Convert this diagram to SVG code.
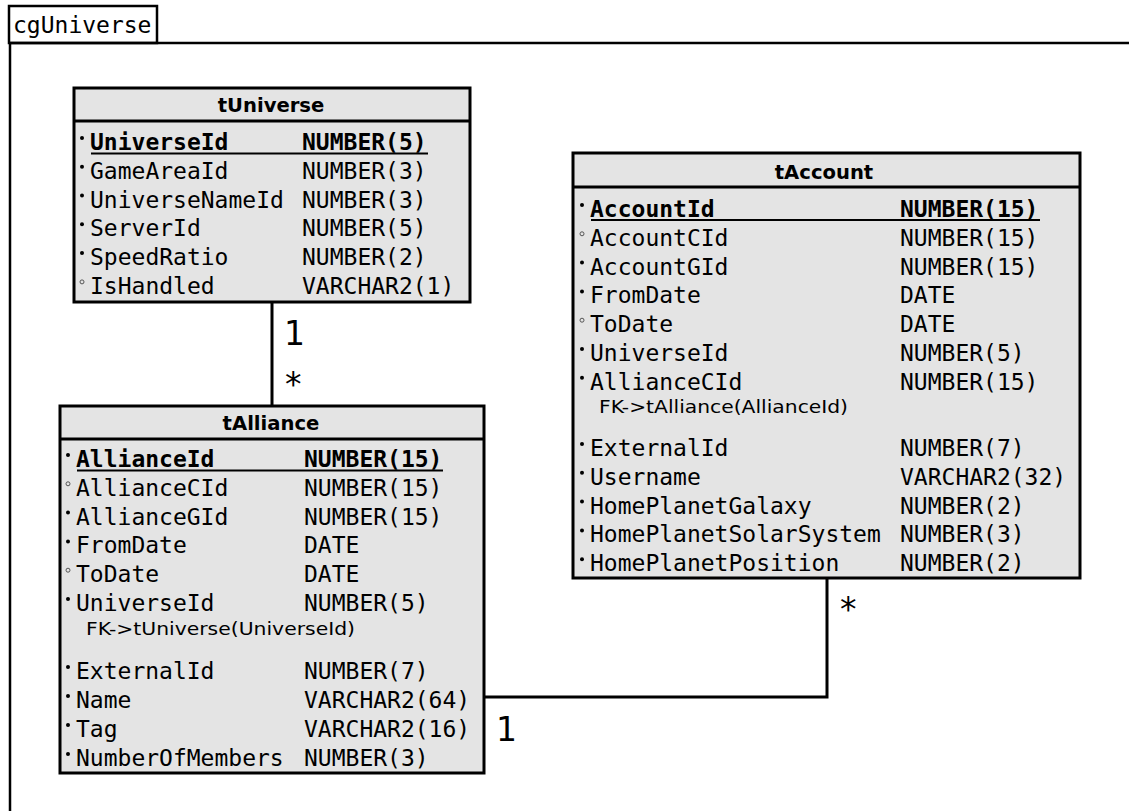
<svg xmlns="http://www.w3.org/2000/svg" width="1129" height="811" viewBox="0 0 1129 811">
<style>
.frame{fill:none;stroke:#000;stroke-width:2.5}
.box{fill:#e4e4e4;stroke:#000;stroke-width:3}
.sep{stroke:#000;stroke-width:3}
.ul{stroke:#000;stroke-width:2}
.title{font-family:"DejaVu Sans",sans-serif;font-weight:bold;font-size:19.6px;fill:#000;text-anchor:middle}
.m{font-family:"DejaVu Sans Mono",monospace;font-size:23px;fill:#000}
.b{font-weight:bold}
.fk{font-family:"DejaVu Sans",sans-serif;font-size:18px;fill:#000}
.card{font-family:"DejaVu Sans",sans-serif;font-size:33px;fill:#000}
.dot{fill:#000}
.odot{fill:none;stroke:#555;stroke-width:1}
.conn{fill:none;stroke:#000;stroke-width:3}
</style>
<rect width="1129" height="811" fill="#fff"/>
<g id="frame">
<rect class="frame" x="9" y="6" width="148" height="37" fill="#fff"/>
<path class="frame" d="M9 43 H1129 M10 43 V811"/>
<text class="m" x="13" y="33">cgUniverse</text>
</g>
<g id="connectors">
<path class="conn" d="M272 302 V406"/>
<path class="conn" d="M484 697 H827 V578"/>
<text class="card" x="284" y="345">1</text>
<text class="card" x="285" y="396">*</text>
<text class="card" x="496" y="741">1</text>
<text class="card" x="840" y="621">*</text>
</g>
<g id="tUniverse">
<rect class="box" x="74" y="88" width="396" height="214"/>
<line class="sep" x1="74" y1="121" x2="470" y2="121"/>
<text class="title" x="271" y="112">tUniverse</text>
<circle class="dot" cx="82" cy="138" r="2"/>
<text class="m b" x="90" y="150">UniverseId</text><text class="m b" x="302" y="150">NUMBER(5)</text>
<line class="ul" x1="91" y1="153.5" x2="428" y2="153.5"/>
<circle class="dot" cx="82" cy="166.7" r="2"/>
<text class="m" x="90" y="178.8">GameAreaId</text><text class="m" x="302" y="178.8">NUMBER(3)</text>
<circle class="dot" cx="82" cy="195.5" r="2"/>
<text class="m" x="90" y="207.6">UniverseNameId</text><text class="m" x="302" y="207.6">NUMBER(3)</text>
<circle class="dot" cx="82" cy="224.3" r="2"/>
<text class="m" x="90" y="236.4">ServerId</text><text class="m" x="302" y="236.4">NUMBER(5)</text>
<circle class="dot" cx="82" cy="253.1" r="2"/>
<text class="m" x="90" y="265.2">SpeedRatio</text><text class="m" x="302" y="265.2">NUMBER(2)</text>
<circle class="odot" cx="82" cy="281.9" r="2"/>
<text class="m" x="90" y="294">IsHandled</text><text class="m" x="302" y="294">VARCHAR2(1)</text>
</g>
<g id="tAlliance">
<rect class="box" x="60" y="406" width="424" height="367"/>
<line class="sep" x1="60" y1="439" x2="484" y2="439"/>
<text class="title" x="271" y="430">tAlliance</text>
<circle class="dot" cx="68" cy="455" r="2"/>
<text class="m b" x="76" y="467">AllianceId</text><text class="m b" x="304" y="467">NUMBER(15)</text>
<line class="ul" x1="77" y1="470.5" x2="443" y2="470.5"/>
<circle class="odot" cx="68" cy="483.8" r="2"/>
<text class="m" x="76" y="495.8">AllianceCId</text><text class="m" x="304" y="495.8">NUMBER(15)</text>
<circle class="dot" cx="68" cy="512.6" r="2"/>
<text class="m" x="76" y="524.6">AllianceGId</text><text class="m" x="304" y="524.6">NUMBER(15)</text>
<circle class="dot" cx="68" cy="541.4" r="2"/>
<text class="m" x="76" y="553.4">FromDate</text><text class="m" x="304" y="553.4">DATE</text>
<circle class="odot" cx="68" cy="570.2" r="2"/>
<text class="m" x="76" y="582.2">ToDate</text><text class="m" x="304" y="582.2">DATE</text>
<circle class="dot" cx="68" cy="599" r="2"/>
<text class="m" x="76" y="611">UniverseId</text><text class="m" x="304" y="611">NUMBER(5)</text>
<text class="fk" x="86" y="635" textLength="269" lengthAdjust="spacingAndGlyphs">FK-&gt;tUniverse(UniverseId)</text>
<circle class="dot" cx="68" cy="667" r="2"/>
<text class="m" x="76" y="679">ExternalId</text><text class="m" x="304" y="679">NUMBER(7)</text>
<circle class="dot" cx="68" cy="696" r="2"/>
<text class="m" x="76" y="708">Name</text><text class="m" x="304" y="708">VARCHAR2(64)</text>
<circle class="dot" cx="68" cy="725" r="2"/>
<text class="m" x="76" y="737">Tag</text><text class="m" x="304" y="737">VARCHAR2(16)</text>
<circle class="dot" cx="68" cy="754" r="2"/>
<text class="m" x="76" y="766">NumberOfMembers</text><text class="m" x="304" y="766">NUMBER(3)</text>
</g>
<g id="tAccount">
<rect class="box" x="573" y="153" width="507" height="425"/>
<line class="sep" x1="573" y1="187" x2="1080" y2="187"/>
<text class="title" x="824" y="179">tAccount</text>
<circle class="dot" cx="582" cy="205" r="2"/>
<text class="m b" x="590" y="217">AccountId</text><text class="m b" x="900" y="217">NUMBER(15)</text>
<line class="ul" x1="591" y1="220" x2="1040" y2="220"/>
<circle class="odot" cx="582" cy="233.8" r="2"/>
<text class="m" x="590" y="245.8">AccountCId</text><text class="m" x="900" y="245.8">NUMBER(15)</text>
<circle class="dot" cx="582" cy="262.6" r="2"/>
<text class="m" x="590" y="274.6">AccountGId</text><text class="m" x="900" y="274.6">NUMBER(15)</text>
<circle class="dot" cx="582" cy="291.4" r="2"/>
<text class="m" x="590" y="303.4">FromDate</text><text class="m" x="900" y="303.4">DATE</text>
<circle class="odot" cx="582" cy="320.2" r="2"/>
<text class="m" x="590" y="332.2">ToDate</text><text class="m" x="900" y="332.2">DATE</text>
<circle class="dot" cx="582" cy="349" r="2"/>
<text class="m" x="590" y="361">UniverseId</text><text class="m" x="900" y="361">NUMBER(5)</text>
<circle class="dot" cx="582" cy="377.8" r="2"/>
<text class="m" x="590" y="389.8">AllianceCId</text><text class="m" x="900" y="389.8">NUMBER(15)</text>
<text class="fk" x="599" y="413" textLength="249" lengthAdjust="spacingAndGlyphs">FK-&gt;tAlliance(AllianceId)</text>
<circle class="dot" cx="582" cy="444" r="2"/>
<text class="m" x="590" y="456">ExternalId</text><text class="m" x="900" y="456">NUMBER(7)</text>
<circle class="dot" cx="582" cy="472.8" r="2"/>
<text class="m" x="590" y="484.8">Username</text><text class="m" x="900" y="484.8">VARCHAR2(32)</text>
<circle class="dot" cx="582" cy="501.6" r="2"/>
<text class="m" x="590" y="513.6">HomePlanetGalaxy</text><text class="m" x="900" y="513.6">NUMBER(2)</text>
<circle class="dot" cx="582" cy="530.4" r="2"/>
<text class="m" x="590" y="542.4">HomePlanetSolarSystem</text><text class="m" x="900" y="542.4">NUMBER(3)</text>
<circle class="dot" cx="582" cy="559.2" r="2"/>
<text class="m" x="590" y="571.2">HomePlanetPosition</text><text class="m" x="900" y="571.2">NUMBER(2)</text>
</g>
</svg>
